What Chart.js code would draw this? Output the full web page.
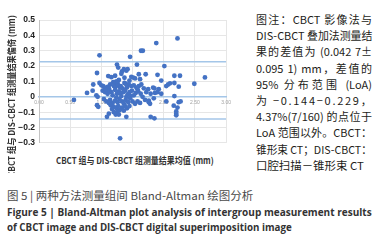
<!DOCTYPE html>
<html><head><meta charset="utf-8">
<script src="https://cdn.jsdelivr.net/npm/chart.js@4/dist/chart.umd.min.js"></script>
<style>
html,body{margin:0;padding:0;background:#fff;width:383px;height:243px;overflow:hidden;}
#wrap{position:relative;width:383px;height:243px;}
#chartBox{position:absolute;left:0;top:0;width:234px;height:152px;}
.abs{position:absolute;white-space:nowrap;}
#ytitleBox{position:absolute;left:0;top:0;width:24px;height:173px;overflow:hidden;}
#ytitle{position:absolute;white-space:nowrap;font:600 9px "Noto Sans CJK SC";line-height:12px;color:#333;transform-origin:0 0;}
#xtitle{font:600 9px "Noto Sans CJK SC";line-height:12px;color:#333;transform-origin:0 50%;}
.ann{position:absolute;left:256px;white-space:nowrap;font:11px "Noto Sans CJK SC";line-height:14px;color:#231c18;transform-origin:0 50%;}
.cap{position:absolute;left:7px;white-space:nowrap;transform-origin:0 50%;}
#cap1{font:11px "Noto Sans CJK SC";line-height:14px;color:#4a4a4a;}
#cap2,#cap3{font:bold 11px "Open Sans","Noto Sans CJK SC";line-height:14px;color:#333;}
</style></head>
<body><div id="wrap">
<div id="chartBox"><canvas id="c"></canvas></div>
<div id="ytitleBox"><div id="ytitle">CBCT 组与 DIS-CBCT 组测量结果偏倚 (mm)</div></div>
<div id="xtitle" class="abs">CBCT 组与 DIS-CBCT 组测量结果均值 (mm)</div>
<div id="annBox"></div>
<div id="cap1" class="cap" data-w="246" data-cy="195">图 5 | 两种方法测量组间 Bland-Altman 绘图分析</div>
<div id="cap2" class="cap" data-w="365" data-cy="212">Figure 5 | Bland-Altman plot analysis of intergroup measurement results</div>
<div id="cap3" class="cap" data-w="285" data-cy="227">of CBCT image and DIS-CBCT digital superimposition image</div>
</div>
<script>
// ---- data ----
const meanValues = [
 2.22,1.88,1.635,1.665,0.97,1.46,1.25,1.57,2.01,1.27,1.36,1.40,1.42,1.33,0.93,1.60,1.71,1.90,1.32,
 1.11,1.16,1.22,1.37,2.17,2.26,2.66,1.48,1.51,1.54,1.96,1.28,1.62,1.45,
 2.49,2.17,2.10,2.07,2.04,2.24,1.83,1.85,1.75,1.92,
 0.87,0.97,1.00,1.03,1.05,1.19,1.21,1.24,1.26,1.20,1.23,1.27,1.30,1.31,1.37,1.39,1.44,1.48,1.52,1.56,1.60,1.64,1.68,1.14,1.10,1.34,1.41,1.58,1.12,
 0.77,0.86,0.92,0.94,1.02,1.06,1.08,1.10,1.13,1.16,1.18,1.22,1.25,1.28,1.32,1.35,1.38,1.42,1.45,1.49,1.52,1.55,1.59,1.63,1.66,1.72,1.79,1.86,1.90,1.96,2.17,1.40,1.30,1.47,
 0.56,1.04,1.08,1.14,1.18,1.22,1.26,1.29,1.33,1.36,1.39,1.43,1.46,1.50,1.58,1.62,1.70,1.76,1.78,1.84,2.04,2.24,2.27,1.24,1.12,1.54,1.76,
 0.93,0.95,1.15,1.20,1.17,1.24,1.27,1.30,1.33,1.26,1.36,1.41,1.45,1.20,1.12,1.09,1.23,1.28,1.40,1.30,1.79,1.85,2.16,2.22,2.20,2.20,2.20,1.38
];
const diffValues = [
 0.38,0.35,0.30,0.30,0.27,0.26,0.21,0.21,0.20,0.19,0.18,0.17,0.18,0.165,0.155,0.147,0.147,0.143,0.15,
 0.135,0.128,0.137,0.124,0.137,0.137,0.126,0.13,0.125,0.12,0.106,0.11,0.115,0.105,
 0.085,0.09,0.088,0.08,0.07,0.066,0.06,0.055,0.05,0.05,
 0.08,0.09,0.075,0.07,0.06,0.095,0.09,0.10,0.09,0.07,0.065,0.075,0.06,0.07,0.09,0.085,0.08,0.07,0.075,0.06,0.07,0.08,0.055,0.08,0.065,0.055,0.06,0.05,0.055,
 0.025,0.04,0.01,0.0,0.04,0.03,0.045,0.02,0.04,0.03,0.01,0.045,0.02,0.035,0.005,0.03,0.04,0.015,0.03,0.04,0.01,0.025,0.035,0.02,0.0,0.03,0.02,0.025,0.03,0.02,0.005,0.0,0.025,0.005,
 -0.02,-0.015,-0.03,-0.02,-0.04,-0.025,-0.035,-0.015,-0.03,-0.045,-0.02,-0.035,-0.01,-0.03,-0.03,-0.04,-0.02,-0.035,-0.045,-0.01,-0.03,-0.035,-0.03,-0.005,-0.04,-0.045,-0.025,
 -0.055,-0.065,-0.055,-0.065,-0.08,-0.075,-0.06,-0.085,-0.07,-0.095,-0.09,-0.075,-0.06,-0.10,-0.11,-0.13,-0.115,-0.115,-0.13,-0.27,-0.13,-0.14,-0.058,-0.07,-0.095,-0.11,-0.12,-0.06
];
const loaLimits = [0.229, -0.144];
const xTickLabels = ['0.00','0.50','1.00','1.50','2.00','2.50','3.00'];
const yTickLabels = ['\u22120.3','\u22120.2','\u22120.1','0','0.1','0.2','0.3','0.4','0.5'];
const annotationLines = [
 '图注：CBCT 影像法与',
 'DIS-CBCT 叠加法测量结',
 '果的差值为 (0.042 7±',
 '0.095 1) mm，差值的',
 '95% 分布范围 (LoA)',
 '为 −0.144−0.229，',
 '4.37%(7/160) 的点位于',
 'LoA 范围以外。CBCT：',
 '锥形束 CT；DIS-CBCT：',
 '口腔扫描－锥形束 CT'
];

// ---- chart ----
const points = meanValues.map((m,i)=>({x:m,y:diffValues[i]}));
const loaSets = loaLimits.map(v=>({
  type:'line', data:[{x:0,y:v},{x:3,y:v}], borderColor:'#a4c6e8', borderWidth:1.5,
  pointRadius:0, order:2
}));
new Chart(document.getElementById('c'), {
  type:'scatter',
  data:{datasets:[
    {data:points, backgroundColor:'#4472c4', borderWidth:0, pointRadius:2.4, order:0},
    ...loaSets
  ]},
  options:{
    responsive:true, maintainAspectRatio:false, animation:false,
    layout:{padding:{left:0,top:20,right:4,bottom:3}, autoPadding:false},
    plugins:{legend:{display:false}, tooltip:{enabled:false}},
    scales:{
      x:{type:'linear', position:{y:0}, min:0, max:3,
         ticks:{stepSize:0.5, padding:3, color:'#a0a0a0', font:{size:5, family:'Liberation Sans'},
                callback:(v,i)=>xTickLabels[i]},
         grid:{color:'#e6e6e6', lineWidth:1, drawTicks:false},
         border:{display:true, color:'#a4c6e8', width:1.5}},
      y:{type:'linear', position:'left', min:-0.3, max:0.5,
         afterFit:(s)=>{s.width=39;},
         ticks:{stepSize:0.1, padding:4, color:'#222', font:{size:8.5, weight:'bold', family:'Liberation Sans'},
                callback:(v,i)=>yTickLabels[i]},
         grid:{color:'#e6e6e6', lineWidth:1, drawTicks:false},
         border:{display:true, color:'#c4c4c4', width:1}}
    }
  }
});

// ---- text layout ----
const yt = document.getElementById('ytitle');
const ytLen = 162, ytk = ytLen / yt.offsetWidth;
yt.style.transform = 'rotate(-90deg) scaleX(' + ytk + ')';
yt.style.left = (12 - yt.offsetHeight/2) + 'px';
yt.style.top = (15 + ytLen) + 'px';
const xt = document.getElementById('xtitle');
const xtLen = 158;
xt.style.transform = 'scaleX(' + (xtLen / xt.offsetWidth) + ')';
xt.style.left = (135 - xtLen/2) + 'px';
xt.style.top = (161 - xt.offsetHeight/2) + 'px';

const box = document.getElementById('annBox');
annotationLines.forEach((t,i)=>{
  const d = document.createElement('div');
  d.className='ann'; d.textContent=t;
  box.appendChild(d);
  const cy = 19 + 16.2*i;
  d.style.top = (cy - d.offsetHeight/2) + 'px';
  const w = d.offsetWidth, target = (i===9)?108:116;
  if (w > target || i === 9) {
    d.style.transform = 'scaleX(' + (target/w) + ')';
  } else if (i === 5) {
    const n = Array.from(t).length;
    d.style.letterSpacing = ((target - w)/(n-1)) + 'px';
  } else {
    d.style.width = target + 'px';
    d.style.whiteSpace = 'normal';
    d.style.textAlign = 'justify';
    d.style.textAlignLast = 'justify';
  }
});
document.querySelectorAll('.cap').forEach(d=>{
  const w = d.offsetWidth, target = +d.dataset.w, cy = +d.dataset.cy;
  d.style.top = (cy - d.offsetHeight/2) + 'px';
  d.style.transform = 'scaleX(' + (target/w) + ')';
});
</script>
</body></html>
